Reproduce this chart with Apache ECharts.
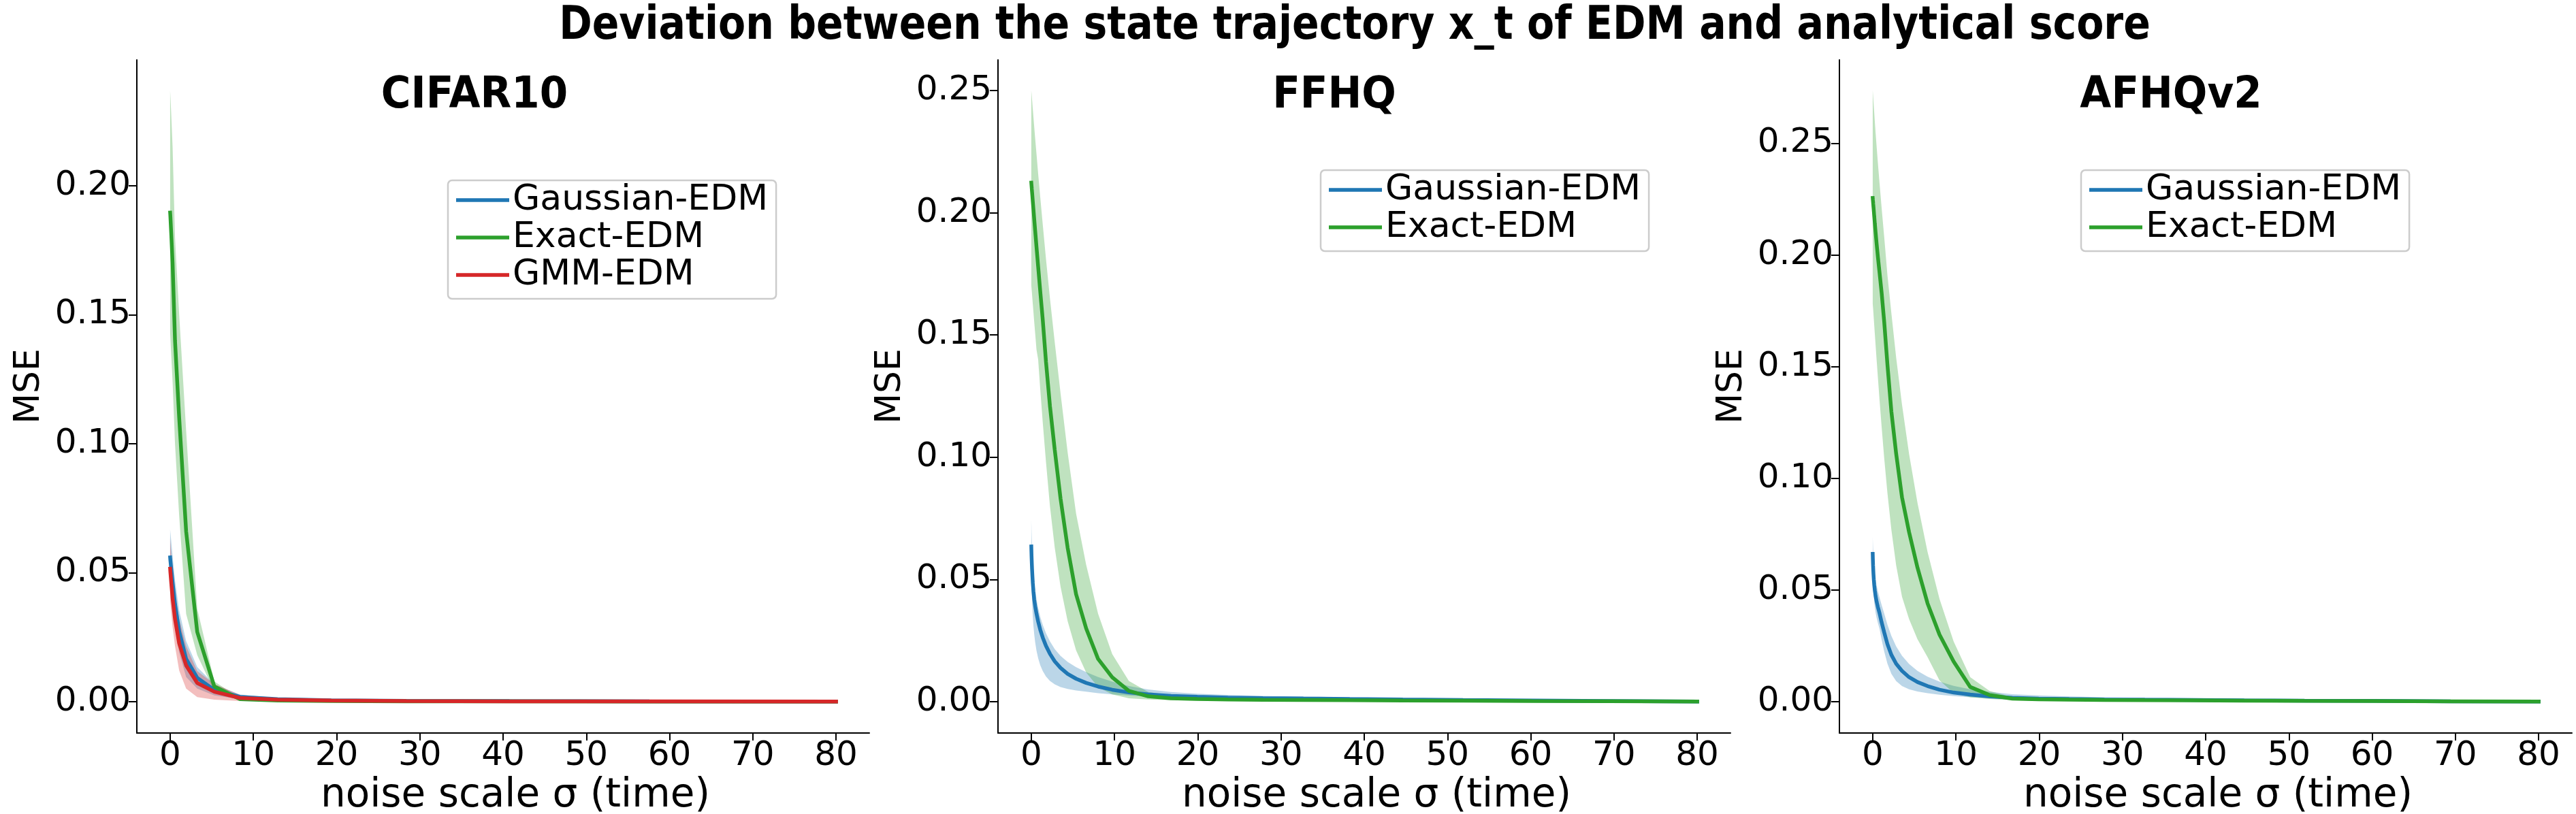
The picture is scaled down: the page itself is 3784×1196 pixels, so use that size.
<!DOCTYPE html>
<html>
<head>
<meta charset="utf-8">
<title>Deviation between the state trajectory x_t of EDM and analytical score</title>
<script src="https://cdn.jsdelivr.net/npm/echarts@6/dist/echarts.min.js"></script>
<style>
  html, body { margin: 0; padding: 0; background: #fff; }
  #chart { width: 3784px; height: 1196px; }
</style>
</head>
<body>
<div id="chart"></div>
<script>
// noise levels of the EDM sampler (18 steps for CIFAR10, 40 steps for the 64x64 sets)
const sigma18 = [0.002, 0.0075, 0.0229, 0.060, 0.1395, 0.2964, 0.5853, 1.088, 1.923, 3.256, 5.314, 8.399, 12.91, 19.35, 28.37, 40.77, 57.59, 80]
const sigma40 = [0.002, 0.00367, 0.00644, 0.0108, 0.0175, 0.0275, 0.0421, 0.0628, 0.0916, 0.1312,
  0.1846, 0.2556, 0.3489, 0.4699, 0.6253, 0.8228, 1.072, 1.382, 1.767, 2.240,
  2.818, 3.519, 4.365, 5.380, 6.590, 8.025, 9.722, 11.72, 14.05, 16.78,
  19.94, 23.61, 27.83, 32.69, 38.26, 44.63, 51.88, 60.10, 69.43, 80]

const xTicks = [0, 10, 20, 30, 40, 50, 60, 70, 80]
const cifarYTicks = [0, 0.05, 0.10, 0.15, 0.20]
const ffhqYTicks = [0, 0.05, 0.10, 0.15, 0.20, 0.25]
const afhqYTicks = [0, 0.05, 0.10, 0.15, 0.20, 0.25]

// CIFAR10
const cifarGaussMean = [0.0559, 0.0556, 0.0550, 0.0538, 0.0512, 0.0462, 0.0378, 0.0272, 0.0165, 0.0092, 0.0045, 0.0018, 0.0009, 0.0005, 0.0003, 0.0002, 0.0001, 0.0000]
const cifarGaussLow = [0.0450, 0.0447, 0.0441, 0.0430, 0.0405, 0.0360, 0.0285, 0.0190, 0.0095, 0.0050, 0.0024, 0.0009, 0.0004, 0.0002, 0.0001, 0.0000, 0.0000, -0.0001]
const cifarGaussHigh = [0.0668, 0.0665, 0.0659, 0.0646, 0.0619, 0.0564, 0.0471, 0.0354, 0.0235, 0.0134, 0.0066, 0.0027, 0.0014, 0.0008, 0.0005, 0.0004, 0.0002, 0.0001]
const cifarExactMean = [0.1896, 0.1893, 0.1886, 0.1862, 0.1810, 0.1700, 0.1400, 0.1100, 0.0660, 0.0270, 0.0058, 0.0009, 0.0004, 0.0002, 0.0001, 0.0001, 0.0000, 0.0000]
const cifarExactLow = [0.1430, 0.1425, 0.1415, 0.1390, 0.1340, 0.1240, 0.1000, 0.0720, 0.0340, 0.0180, 0.0040, 0.0005, 0.0002, 0.0001, 0.0000, 0.0000, -0.0001, -0.0001]
const cifarExactHigh = [0.2368, 0.2364, 0.2355, 0.2330, 0.2270, 0.2150, 0.1800, 0.1500, 0.1050, 0.0360, 0.0078, 0.0013, 0.0006, 0.0003, 0.0002, 0.0001, 0.0001, 0.0000]
const cifarGmmMean = [0.0515, 0.0512, 0.0505, 0.0490, 0.0458, 0.0400, 0.0320, 0.0225, 0.0140, 0.0072, 0.0038, 0.0014, 0.0007, 0.0004, 0.0002, 0.0001, 0.0001, 0.0000]
const cifarGmmLow = [0.0396, 0.0393, 0.0386, 0.0372, 0.0342, 0.0290, 0.0215, 0.0120, 0.0050, 0.0017, 0.0007, 0.0002, 0.0001, 0.0000, 0.0000, 0.0000, 0.0000, -0.0001]
const cifarGmmHigh = [0.0634, 0.0630, 0.0622, 0.0605, 0.0570, 0.0505, 0.0420, 0.0320, 0.0215, 0.0118, 0.0068, 0.0026, 0.0013, 0.0007, 0.0004, 0.0003, 0.0002, 0.0001]

// FFHQ
const ffhqGaussMean = [0.0635, 0.0632, 0.0628, 0.0622, 0.0613, 0.0600, 0.0585, 0.0566, 0.0543, 0.0516,
  0.0485, 0.0452, 0.0418, 0.0390, 0.0360, 0.0328, 0.0295, 0.0262, 0.0228, 0.0196,
  0.0165, 0.0138, 0.0114, 0.0094, 0.0077, 0.0062, 0.0049, 0.0038, 0.0030, 0.0024,
  0.0020, 0.0017, 0.0015, 0.0013, 0.0011, 0.0009, 0.0007, 0.0005, 0.0003, 0.0001]
const ffhqGaussLow = [0.0525, 0.0522, 0.0518, 0.0511, 0.0500, 0.0486, 0.0467, 0.0443, 0.0415, 0.0383,
  0.0348, 0.0312, 0.0276, 0.0242, 0.0209, 0.0178, 0.0150, 0.0125, 0.0103, 0.0085,
  0.0071, 0.0060, 0.0052, 0.0046, 0.0041, 0.0035, 0.0030, 0.0025, 0.0020, 0.0016,
  0.0013, 0.0011, 0.0009, 0.0008, 0.0007, 0.0005, 0.0004, 0.0002, 0.0001, 0.0000]
const ffhqGaussHigh = [0.0746, 0.0742, 0.0737, 0.0729, 0.0718, 0.0702, 0.0683, 0.0660, 0.0632, 0.0600,
  0.0565, 0.0528, 0.0490, 0.0456, 0.0420, 0.0384, 0.0348, 0.0314, 0.0280, 0.0247,
  0.0215, 0.0187, 0.0163, 0.0141, 0.0121, 0.0101, 0.0082, 0.0064, 0.0050, 0.0040,
  0.0033, 0.0028, 0.0024, 0.0021, 0.0018, 0.0015, 0.0012, 0.0009, 0.0006, 0.0003]
const ffhqExactMean = [0.2123, 0.2122, 0.2121, 0.2119, 0.2116, 0.2112, 0.2106, 0.2097, 0.2085, 0.2068,
  0.2045, 0.2015, 0.1975, 0.1925, 0.1860, 0.1780, 0.1680, 0.1560, 0.1390, 0.1210,
  0.1030, 0.0830, 0.0630, 0.0440, 0.0300, 0.0175, 0.0100, 0.0044, 0.0022, 0.0014,
  0.0011, 0.0009, 0.0008, 0.0007, 0.0006, 0.0005, 0.0004, 0.0003, 0.0002, 0.0001]
const ffhqExactLow = [0.1703, 0.1702, 0.1701, 0.1699, 0.1696, 0.1692, 0.1686, 0.1677, 0.1665, 0.1648,
  0.1625, 0.1595, 0.1555, 0.1505, 0.1440, 0.1400, 0.1280, 0.1140, 0.0980, 0.0800,
  0.0630, 0.0470, 0.0330, 0.0210, 0.0120, 0.0060, 0.0030, 0.0014, 0.0009, 0.0006,
  0.0004, 0.0003, 0.0003, 0.0002, 0.0002, 0.0001, 0.0001, 0.0000, 0.0000, -0.0001]
const ffhqExactHigh = [0.2500, 0.2499, 0.2498, 0.2496, 0.2493, 0.2489, 0.2483, 0.2474, 0.2462, 0.2445,
  0.2422, 0.2392, 0.2352, 0.2302, 0.2240, 0.2160, 0.2065, 0.1950, 0.1810, 0.1650,
  0.1470, 0.1260, 0.1020, 0.0770, 0.0560, 0.0360, 0.0195, 0.0085, 0.0040, 0.0026,
  0.0020, 0.0017, 0.0015, 0.0013, 0.0011, 0.0009, 0.0007, 0.0006, 0.0004, 0.0003]

// AFHQv2
const afhqGaussMean = [0.0662, 0.0659, 0.0655, 0.0649, 0.0640, 0.0628, 0.0612, 0.0593, 0.0571, 0.0547,
  0.0522, 0.0497, 0.0472, 0.0448, 0.0423, 0.0396, 0.0355, 0.0310, 0.0258, 0.0210,
  0.0170, 0.0138, 0.0110, 0.0088, 0.0070, 0.0054, 0.0041, 0.0032, 0.0024, 0.0018,
  0.0014, 0.0012, 0.0010, 0.0009, 0.0008, 0.0006, 0.0005, 0.0004, 0.0002, 0.0001]
const afhqGaussLow = [0.0585, 0.0582, 0.0578, 0.0572, 0.0563, 0.0551, 0.0535, 0.0516, 0.0494, 0.0470,
  0.0446, 0.0422, 0.0398, 0.0376, 0.0352, 0.0326, 0.0277, 0.0225, 0.0171, 0.0125,
  0.0092, 0.0070, 0.0056, 0.0046, 0.0038, 0.0031, 0.0025, 0.0020, 0.0016, 0.0012,
  0.0009, 0.0007, 0.0006, 0.0005, 0.0004, 0.0003, 0.0002, 0.0001, 0.0000, 0.0000]
const afhqGaussHigh = [0.0739, 0.0736, 0.0732, 0.0726, 0.0717, 0.0705, 0.0689, 0.0670, 0.0648, 0.0624,
  0.0598, 0.0572, 0.0546, 0.0520, 0.0494, 0.0466, 0.0433, 0.0395, 0.0345, 0.0295,
  0.0248, 0.0206, 0.0169, 0.0138, 0.0112, 0.0090, 0.0071, 0.0056, 0.0044, 0.0034,
  0.0028, 0.0024, 0.0020, 0.0018, 0.0016, 0.0013, 0.0011, 0.0008, 0.0005, 0.0003]
const afhqExactMean = [0.2255, 0.2254, 0.2253, 0.2251, 0.2248, 0.2244, 0.2238, 0.2228, 0.2215, 0.2197,
  0.2172, 0.2140, 0.2100, 0.2050, 0.1990, 0.1920, 0.1830, 0.1700, 0.1510, 0.1300,
  0.1110, 0.0915, 0.0760, 0.0600, 0.0440, 0.0300, 0.0180, 0.0066, 0.0030, 0.0014,
  0.0011, 0.0009, 0.0008, 0.0007, 0.0006, 0.0005, 0.0004, 0.0003, 0.0002, 0.0001]
const afhqExactLow = [0.1780, 0.1779, 0.1778, 0.1776, 0.1773, 0.1769, 0.1763, 0.1752, 0.1736, 0.1714,
  0.1684, 0.1645, 0.1595, 0.1530, 0.1450, 0.1350, 0.1230, 0.1090, 0.0935, 0.0770,
  0.0610, 0.0470, 0.0370, 0.0280, 0.0200, 0.0095, 0.0040, 0.0020, 0.0012, 0.0007,
  0.0005, 0.0004, 0.0003, 0.0003, 0.0002, 0.0002, 0.0001, 0.0001, 0.0000, 0.0000]
const afhqExactHigh = [0.2736, 0.2735, 0.2734, 0.2732, 0.2728, 0.2722, 0.2714, 0.2702, 0.2686, 0.2664,
  0.2635, 0.2595, 0.2545, 0.2485, 0.2410, 0.2320, 0.2210, 0.2080, 0.1910, 0.1740,
  0.1540, 0.1330, 0.1110, 0.0890, 0.0670, 0.0460, 0.0270, 0.0110, 0.0048, 0.0021,
  0.0017, 0.0014, 0.0012, 0.0011, 0.0010, 0.0009, 0.0007, 0.0005, 0.0003, 0.0002]

const font = 'DejaVu Sans'
const blue = '#1f77b4'
const green = '#2ca02c'
const red = '#d62728'

// panel frames, in px
const panels = [
  { left: 201, yMin: -0.0122, yMax: 0.2488, yTicks: cifarYTicks, title: 'CIFAR10', titleX: 697, legendLeft: 658, legendTop: 265 },
  { left: 1466, yMin: -0.0128, yMax: 0.2625, yTicks: ffhqYTicks, title: 'FFHQ', titleX: 1960, legendLeft: 1940, legendTop: 250 },
  { left: 2702, yMin: -0.0140, yMax: 0.2873, yTicks: afhqYTicks, title: 'AFHQv2', titleX: 3189, legendLeft: 3057, legendTop: 250 }
]

function fade(hex) {
  const n = parseInt(hex.slice(1), 16)
  return 'rgba(' + (n >> 16) + ',' + ((n >> 8) & 255) + ',' + (n & 255) + ',0.3)'
}

function lineSeries(idx, name, sigma, mean, color) {
  return {
    type: 'line',
    name: name,
    xAxisIndex: idx,
    yAxisIndex: idx,
    data: sigma.map((s, i) => [s, mean[i]]),
    showSymbol: false,
    symbol: 'none',
    lineStyle: { color: color, width: 5.5, cap: 'square' },
    itemStyle: { color: color },
    z: 3
  }
}

// mean ± std band, drawn as one polygon through the axis scales
function bandSeries(idx, sigma, low, high, color) {
  return {
    type: 'custom',
    xAxisIndex: idx,
    yAxisIndex: idx,
    silent: true,
    z: 2,
    data: sigma.map((s, i) => [s, low[i], high[i]]),
    encode: { x: 0, y: [1, 2] },
    renderItem: function (params, api) {
      if (params.dataIndex !== 0) return
      const upper = sigma.map((s, i) => api.coord([s, high[i]]))
      const lower = sigma.map((s, i) => api.coord([s, low[i]])).reverse()
      return {
        type: 'polygon',
        shape: { points: upper.concat(lower) },
        style: { fill: fade(color) }
      }
    }
  }
}

const chart = echarts.init(document.getElementById('chart'))

const grids = panels.map(p => ({ left: p.left, top: 88, width: 1076, height: 989, outerBoundsMode: 'none' }))

const xAxes = panels.map((p, i) => ({
  type: 'value',
  gridIndex: i,
  min: -4,
  max: 84,
  name: 'noise scale σ (time)',
  nameLocation: 'middle',
  nameGap: 61,
  nameTextStyle: { fontSize: 58, fontFamily: font, color: '#000', padding: [0, 0, 0, 36] },
  axisLine: { show: true, onZero: false, lineStyle: { color: '#000', width: 2 } },
  axisTick: { show: true, length: 11, customValues: xTicks, lineStyle: { color: '#000', width: 2 } },
  axisLabel: { fontSize: 50, fontFamily: font, color: '#000', margin: 9, customValues: xTicks },
  splitLine: { show: false }
}))

const yAxes = panels.map((p, i) => ({
  type: 'value',
  gridIndex: i,
  min: p.yMin,
  max: p.yMax,
  name: 'MSE',
  nameLocation: 'middle',
  nameRotate: 90,
  nameGap: 132,
  nameTextStyle: { fontSize: 52, fontFamily: font, color: '#000', padding: [0, 0, 0, 30] },
  axisLine: { show: true, onZero: false, lineStyle: { color: '#000', width: 2 } },
  axisTick: { show: true, length: 12, customValues: p.yTicks, lineStyle: { color: '#000', width: 2 } },
  axisLabel: { fontSize: 50, fontFamily: font, color: '#000', margin: 9, customValues: p.yTicks, formatter: v => v.toFixed(2) },
  splitLine: { show: false }
}))

const legends = panels.map((p, i) => ({
  data: i === 0 ? ['Gaussian-EDM', 'Exact-EDM', 'GMM-EDM'] : ['Gaussian-EDM', 'Exact-EDM'],
  orient: 'vertical',
  left: p.legendLeft,
  top: p.legendTop,
  icon: 'rect',
  itemWidth: 78,
  itemHeight: 5.5,
  itemGap: 3,
  itemTextGap: 14,
  padding: [3, 12, 9, 12],
  backgroundColor: '#fff',
  borderColor: '#cccccc',
  borderWidth: 2.5,
  borderRadius: 6,
  selectedMode: false,
  textStyle: { fontSize: 52, fontFamily: font, color: '#000' }
}))

const titles = [{
  type: 'text',
  x: 1990,
  y: 39,
  scaleX: 0.86,
  style: { text: 'Deviation between the state trajectory x_t of EDM and analytical score', font: 'bold 68px "DejaVu Sans"', fill: '#000', align: 'center', verticalAlign: 'middle', textAlign: 'center', textVerticalAlign: 'middle' }
}].concat(panels.map(p => ({
  type: 'text',
  x: p.titleX,
  y: 141,
  scaleX: 0.93,
  style: { text: p.title, font: 'bold 64px "DejaVu Sans"', fill: '#000', align: 'center', verticalAlign: 'middle', textAlign: 'center', textVerticalAlign: 'middle' }
})))

const series = [
  bandSeries(0, sigma18, cifarGaussLow, cifarGaussHigh, blue),
  bandSeries(0, sigma18, cifarExactLow, cifarExactHigh, green),
  bandSeries(0, sigma18, cifarGmmLow, cifarGmmHigh, red),
  lineSeries(0, 'Gaussian-EDM', sigma18, cifarGaussMean, blue),
  lineSeries(0, 'Exact-EDM', sigma18, cifarExactMean, green),
  lineSeries(0, 'GMM-EDM', sigma18, cifarGmmMean, red),

  bandSeries(1, sigma40, ffhqGaussLow, ffhqGaussHigh, blue),
  bandSeries(1, sigma40, ffhqExactLow, ffhqExactHigh, green),
  lineSeries(1, 'Gaussian-EDM', sigma40, ffhqGaussMean, blue),
  lineSeries(1, 'Exact-EDM', sigma40, ffhqExactMean, green),

  bandSeries(2, sigma40, afhqGaussLow, afhqGaussHigh, blue),
  bandSeries(2, sigma40, afhqExactLow, afhqExactHigh, green),
  lineSeries(2, 'Gaussian-EDM', sigma40, afhqGaussMean, blue),
  lineSeries(2, 'Exact-EDM', sigma40, afhqExactMean, green)
]

chart.setOption({
  animation: false,
  backgroundColor: '#fff',
  textStyle: { fontFamily: font },
  grid: grids,
  xAxis: xAxes,
  yAxis: yAxes,
  legend: legends,
  graphic: titles,
  series: series
})
</script>
</body>
</html>
